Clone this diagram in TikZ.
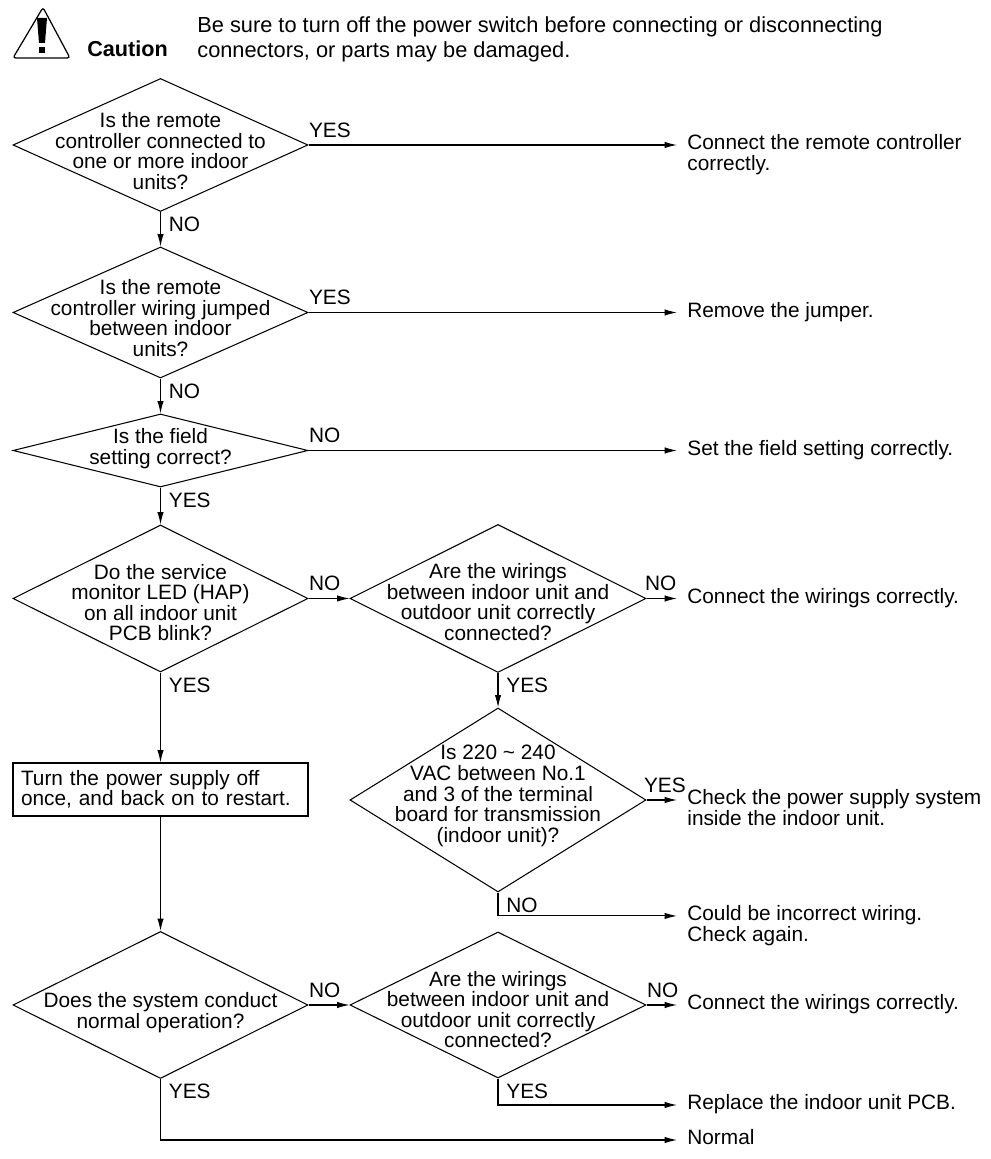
\documentclass[tikz,border=0pt]{standalone}
\usepackage{fontspec}
\setmainfont{Liberation Sans}
\usepackage{tikz}
\usetikzlibrary{arrows.meta,shapes.geometric}
\newcommand{\chartfont}{\fontsize{11.85}{11.7}\selectfont}

\begin{document}
\begin{tikzpicture}
  [
    >={Latex[length=7pt,width=3.6pt]},
    flow/.style={line width=0.6pt, ->},
    decision/.style={diamond, draw, line width=0.6pt, inner sep=0pt},
    qtext/.style={align=center, inner sep=0pt, font=\chartfont},
    action/.style={draw, line width=0.6pt, minimum width=5.9cm, minimum height=1.06cm,
      inner xsep=0.16cm, text width=5.58cm, align=left, font=\chartfont},
    answer/.style={anchor=mid west, inner xsep=5.7pt, inner ysep=0pt, align=left, font=\chartfont},
    tagright/.style={pos=0, anchor=south west, inner sep=0pt, yshift=4pt, font=\chartfont},
    tagdown/.style={pos=0, anchor=north west, inner sep=0pt, xshift=4.5pt, yshift=-2.6pt, font=\chartfont}
  ]
  \useasboundingbox (0,0) rectangle (19.8,23.18);

  % caution header
  \draw[line width=0.7pt, rounded corners=1.5pt] (0.86,23.03) -- (1.40,22.02) -- (0.26,22.02) -- cycle;
  \fill (0.74,22.82) -- (0.94,22.82) -- (0.90,22.32) -- (0.78,22.32) -- cycle;
  \fill (0.78,22.12) rectangle (0.90,22.24);
  \node[anchor=mid west, inner sep=0pt, font=\fontsize{12.3}{14}\selectfont\bfseries] (caution) at (1.74,22.14) {Caution};
  \node[anchor=mid west, inner sep=0pt, align=left, font=\fontsize{12.4}{14.2}\selectfont] (warning) at (3.94,22.13)
    {Be sure to turn off the power switch before connecting or disconnecting\\connectors, or parts may be damaged.};

  % decisions
  \node[decision, minimum width=5.9cm, minimum height=2.66cm] (q1) at (3.21,20.28) {};
  \node[decision, minimum width=5.9cm, minimum height=2.62cm] (q2) at (3.21,16.93) {};
  \node[decision, minimum width=5.9cm, minimum height=1.46cm] (q3) at (3.21,14.17) {};
  \node[decision, minimum width=5.9cm, minimum height=2.94cm] (q4) at (3.21,11.21) {};
  \node[decision, minimum width=5.92cm, minimum height=2.96cm] (q5) at (9.96,11.21) {};
  \node[decision, minimum width=5.92cm, minimum height=3.68cm] (q6) at (9.96,7.18) {};
  \node[decision, minimum width=5.92cm, minimum height=2.92cm] (q7) at (9.96,3.08) {};
  \node[decision, minimum width=5.9cm, minimum height=2.94cm] (q8) at (3.21,3.08) {};
  \node[action] (b1) at (3.21,7.39) {Turn the power supply off\\once, and back on to restart.};

  \node[qtext, yshift=-0.12cm] (q1t) at (q1) {Is the remote\\controller connected to\\one or more indoor\\units?};
  \node[qtext, yshift=-0.11cm] (q2t) at (q2) {Is the remote\\controller wiring jumped\\between indoor\\units?};
  \node[qtext, yshift=0.04cm] (q3t) at (q3) {Is the field\\setting correct?};
  \node[qtext, yshift=-0.08cm] (q4t) at (q4) {Do the service\\monitor LED (HAP)\\on all indoor unit\\PCB blink?};
  \node[qtext, yshift=-0.07cm] (q5t) at (q5) {Are the wirings\\between indoor unit and\\outdoor unit correctly\\connected?};
  \node[qtext, yshift=0.08cm] (q6t) at (q6) {Is 220 \textasciitilde{} 240\\VAC between No.1\\and 3 of the terminal\\board for transmission\\(indoor unit)?};
  \node[qtext, yshift=-0.09cm] (q7t) at (q7) {Are the wirings\\between indoor unit and\\outdoor unit correctly\\connected?};
  \node[qtext, yshift=-0.15cm] (q8t) at (q8) {Does the system conduct\\normal operation?};

  % remedies (mid west sits on the last line)
  \node[answer] (a1) at (13.54,19.87) {Connect the remote controller\\correctly.};
  \node[answer] (a2) at (13.54,16.93) {Remove the jumper.};
  \node[answer] (a3) at (13.54,14.17) {Set the field setting correctly.};
  \node[answer] (a4) at (13.54,11.21) {Connect the wirings correctly.};
  \node[answer] (a5) at (13.54,6.77) {Check the power supply system\\inside the indoor unit.};
  \node[answer] (a6) at (13.54,4.45) {Could be incorrect wiring.\\Check again.};
  \node[answer] (a7) at (13.54,3.08) {Connect the wirings correctly.};
  \node[answer] (a8) at (13.54,1.08) {Replace the indoor unit PCB.};
  \node[answer] (a9) at (13.54,0.38) {Normal};

  % main flow
  \draw[flow] (q1) -- node[tagdown] {NO} (q2);
  \draw[flow] (q2) -- node[tagdown] {NO} (q3);
  \draw[flow] (q3) -- node[tagdown] {YES} (q4);
  \draw[flow] (q4) -- node[tagdown] {YES} (b1);
  \draw[flow] (b1) -- (q8);
  \draw[flow] (q4) -- node[tagright] {NO} (q5);
  \draw[flow] (q5) -- node[tagdown] {YES} (q6);
  \draw[flow] (q8) -- node[tagright] {NO} (q7);

  % exits
  \draw[flow] (q1.east) -- node[tagright] {YES} (q1.east -| a1.west);
  \draw[flow] (q2.east) -- node[tagright] {YES} (q2.east -| a2.west);
  \draw[flow] (q3.east) -- node[tagright] {NO} (q3.east -| a3.west);
  \draw[flow] (q5.east) -- node[tagright, xshift=-0.04cm] {NO} (q5.east -| a4.west);
  \draw[flow] (q6.east) -- node[tagright, xshift=-0.06cm] {YES} (q6.east -| a5.west);
  \draw[flow] (q6.south) |- node[tagdown] {NO} ([yshift=11.7pt]a6.mid west);
  \draw[flow] (q7.east) -- node[tagright] {NO} (q7.east -| a7.west);
  \draw[flow] (q7.south) |- node[tagdown] {YES} (a8.mid west);
  \draw[flow] (q8.south) |- node[tagdown] {YES} (a9.mid west);
\end{tikzpicture}
\end{document}
